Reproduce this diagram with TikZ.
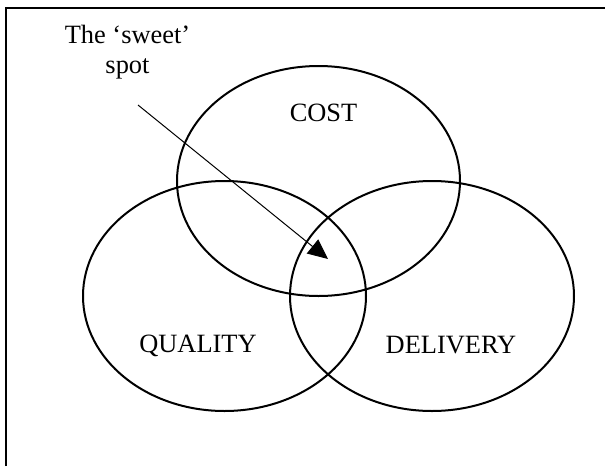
\documentclass[tikz,border=0pt]{standalone}
\usepackage{fontspec}
\setmainfont{Liberation Serif}
\usepackage{tikz}
\usetikzlibrary{arrows.meta, shapes.geometric, positioning}
\tikzset{set/.style={ellipse, draw, line width=1pt, minimum width=141.5pt, minimum height=115pt, inner sep=0pt}}
\tikzset{label text/.style={font=\fontsize{13.2}{15}\selectfont, align=center, inner sep=0pt}}

\begin{document}
\begin{tikzpicture}[x=0.5pt, y=-0.5pt, >={Triangle[length=10pt, width=9pt]}]
\useasboundingbox (0,0) rectangle (605,466);
\draw [line width=1pt] (6,466) -- (6,8) -- (605,8);
\node[set] (cost) at (318.5,181) {};
\node[set] (quality) at (224.5,296) {};
\node[set, minimum width=142pt] (delivery) at (432,296) {};
\node[label text, anchor=base] (costText) at (323.5,121) {COST};
\node[label text, anchor=base] (qualityText) at (198,352) {QUALITY};
\node[label text, anchor=base] (deliveryText) at (451,353) {DELIVERY};
\node[label text] (sweetText) at (127.5,52) {The ‘sweet’\\spot};
\coordinate (arrowStart) at (138,105);
\coordinate (sweetSpot) at (328,259);
\draw [->, line width=0.5pt] (arrowStart) -- (sweetSpot);
\end{tikzpicture}
\end{document}
